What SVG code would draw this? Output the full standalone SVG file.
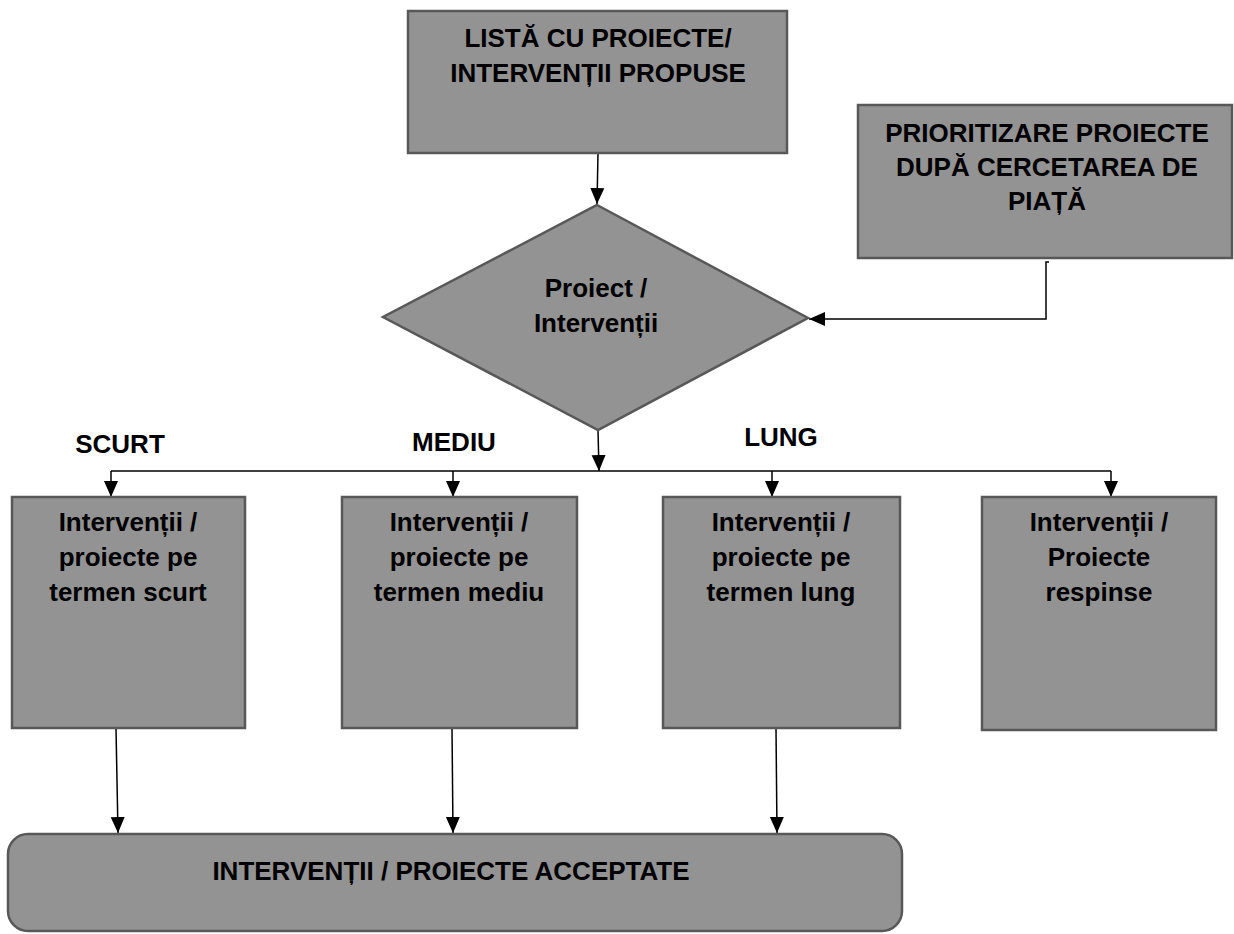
<svg xmlns="http://www.w3.org/2000/svg" width="1234" height="934" viewBox="0 0 1234 934">
<style>
.box{fill:#939393;stroke:#585858;stroke-width:2.5}
.t{font-family:"Liberation Sans",Arial,sans-serif;font-weight:bold;font-size:26px;fill:#000;text-anchor:middle}
.c{fill:none;stroke:#000;stroke-width:1.5}
</style>
<defs>
<marker id="ah" markerUnits="userSpaceOnUse" markerWidth="16" markerHeight="16" viewBox="0 0 16 16" refX="16" refY="8" orient="auto">
<path d="M0,1 L16,8 L0,15 Z" fill="#000"/>
</marker>
</defs>
<rect width="1234" height="934" fill="#fff"/>
<g id="connectors">
<path class="c" d="M598,153 L597,204" marker-end="url(#ah)"/>
<path class="c" d="M1049,262 H1046 V319 H809" marker-end="url(#ah)"/>
<path class="c" d="M598,430 L599,471" marker-end="url(#ah)"/>
<path class="c" d="M111,471 H1111"/>
<path class="c" d="M111,471 V497" marker-end="url(#ah)"/>
<path class="c" d="M453,471 V497" marker-end="url(#ah)"/>
<path class="c" d="M772,471 V497" marker-end="url(#ah)"/>
<path class="c" d="M1111,471 V497" marker-end="url(#ah)"/>
<path class="c" d="M116,728 L118,833" marker-end="url(#ah)"/>
<path class="c" d="M452,728 L453,833" marker-end="url(#ah)"/>
<path class="c" d="M776,728 L777,833" marker-end="url(#ah)"/>
</g>
<g id="node-lista">
<rect class="box" x="408" y="11" width="379" height="142"/>
<text class="t" x="598" y="47">LISTĂ CU PROIECTE/</text>
<text class="t" x="598" y="82">INTERVENȚII PROPUSE</text>
</g>
<g id="node-prioritizare">
<rect class="box" x="858" y="105" width="374" height="153"/>
<text class="t" x="1047" y="142">PRIORITIZARE PROIECTE</text>
<text class="t" x="1047" y="176">DUPĂ CERCETAREA DE</text>
<text class="t" x="1047" y="210">PIAȚĂ</text>
</g>
<g id="node-decizie">
<polygon class="box" points="597,205 808,318 598,430 383,317"/>
<text class="t" x="596" y="297">Proiect /</text>
<text class="t" x="596" y="332">Intervenții</text>
</g>
<g id="labels">
<text class="t" x="120" y="453">SCURT</text>
<text class="t" x="454" y="451">MEDIU</text>
<text class="t" x="781" y="446">LUNG</text>
</g>
<g id="node-scurt">
<rect class="box" x="12" y="497" width="233" height="231"/>
<text class="t" x="128" y="531">Intervenții /</text>
<text class="t" x="128" y="566">proiecte pe</text>
<text class="t" x="128" y="601">termen scurt</text>
</g>
<g id="node-mediu">
<rect class="box" x="342" y="497" width="235" height="231"/>
<text class="t" x="459" y="531">Intervenții /</text>
<text class="t" x="459" y="566">proiecte pe</text>
<text class="t" x="459" y="601">termen mediu</text>
</g>
<g id="node-lung">
<rect class="box" x="663" y="497" width="237" height="231"/>
<text class="t" x="781" y="531">Intervenții /</text>
<text class="t" x="781" y="566">proiecte pe</text>
<text class="t" x="781" y="601">termen lung</text>
</g>
<g id="node-respinse">
<rect class="box" x="982" y="497" width="234" height="233"/>
<text class="t" x="1099" y="531">Intervenții /</text>
<text class="t" x="1099" y="566">Proiecte</text>
<text class="t" x="1099" y="601">respinse</text>
</g>
<g id="node-acceptate">
<rect class="box" x="8" y="834" width="894" height="97" rx="20" ry="20"/>
<text class="t" x="451" y="880">INTERVENȚII / PROIECTE ACCEPTATE</text>
</g>
</svg>
